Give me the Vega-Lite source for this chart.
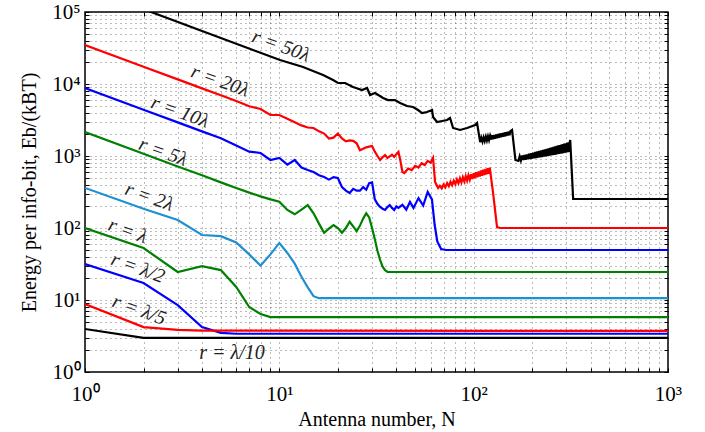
{
  "$schema": "https://vega.github.io/schema/vega-lite/v6.json",
  "width": 583,
  "height": 360,
  "autosize": "none",
  "padding": {"left": 85, "top": 12, "right": 37, "bottom": 60},
  "config": {
    "view": {"stroke": "black", "strokeWidth": 1.5},
    "font": "Liberation Serif",
    "axis": {
      "grid": true,
      "gridDash": [1, 4],
      "gridColor": "#333333",
      "gridOpacity": 0.65,
      "domain": false,
      "tickColor": "black",
      "tickSize": -4,
      "labelFont": "Liberation Serif",
      "labelFontSize": 21,
      "labelColor": "black",
      "labelOverlap": false,
      "labelFlush": false,
      "titleFont": "Liberation Serif",
      "titleFontSize": 20,
      "titleFontWeight": "normal",
      "titleColor": "black"
    }
  },
  "datasets": {
    "curves": [
      {"r": "50λ", "N": 1, "E": 220000}, {"r": "50λ", "N": 10.08, "E": 21500}, {"r": "50λ", "N": 13.24, "E": 17220}, {"r": "50λ", "N": 16.79, "E": 13340}, {"r": "50λ", "N": 18.9, "E": 11370}, {"r": "50λ", "N": 20.05, "E": 10320}, {"r": "50λ", "N": 21.79, "E": 10320}, {"r": "50λ", "N": 23.95, "E": 9080}, {"r": "50λ", "N": 26.65, "E": 8250}, {"r": "50λ", "N": 28.28, "E": 8790}, {"r": "50λ", "N": 29.3, "E": 7030}, {"r": "50λ", "N": 31.09, "E": 7500}, {"r": "50λ", "N": 34.18, "E": 6390}, {"r": "50λ", "N": 36.26, "E": 5990}, {"r": "50λ", "N": 39.4, "E": 5990}, {"r": "50λ", "N": 41.81, "E": 5450}, {"r": "50λ", "N": 45.42, "E": 4950}, {"r": "50λ", "N": 48.76, "E": 4790}, {"r": "50λ", "N": 51.73, "E": 4350}, {"r": "50λ", "N": 54.24, "E": 3950}, {"r": "50λ", "N": 57.56, "E": 4080}, {"r": "50λ", "N": 61.07, "E": 4350}, {"r": "50λ", "N": 61.8, "E": 3480}, {"r": "50λ", "N": 64.8, "E": 2970}, {"r": "50λ", "N": 72.96, "E": 3160}, {"r": "50λ", "N": 75.6, "E": 3370}, {"r": "50λ", "N": 78.34, "E": 2450}, {"r": "50λ", "N": 85.11, "E": 2300}, {"r": "50λ", "N": 92.47, "E": 2450}, {"r": "50λ", "N": 101.7, "E": 2700}, {"r": "50λ", "N": 104.1, "E": 2870},
      {"r": "50λ", "N": 108, "E": 1560}, {"r": "50λ", "N": 109.5, "E": 1793}, {"r": "50λ", "N": 111, "E": 1586}, {"r": "50λ", "N": 112.5, "E": 1821}, {"r": "50λ", "N": 114, "E": 1612}, {"r": "50λ", "N": 115.5, "E": 1849}, {"r": "50λ", "N": 117, "E": 1637}, {"r": "50λ", "N": 118.5, "E": 1878}, {"r": "50λ", "N": 120, "E": 1663}, {"r": "50λ", "N": 121.5, "E": 1906}, {"r": "50λ", "N": 123, "E": 1689}, {"r": "50λ", "N": 124.5, "E": 1934}, {"r": "50λ", "N": 126, "E": 1715}, {"r": "50λ", "N": 127.5, "E": 1962}, {"r": "50λ", "N": 129, "E": 1741}, {"r": "50λ", "N": 130.5, "E": 1990}, {"r": "50λ", "N": 132, "E": 1766}, {"r": "50λ", "N": 133.5, "E": 2018}, {"r": "50λ", "N": 135, "E": 1792}, {"r": "50λ", "N": 136.5, "E": 2047}, {"r": "50λ", "N": 138, "E": 1818}, {"r": "50λ", "N": 139.5, "E": 2075}, {"r": "50λ", "N": 141, "E": 1844}, {"r": "50λ", "N": 142.5, "E": 2103}, {"r": "50λ", "N": 144, "E": 1870}, {"r": "50λ", "N": 145.5, "E": 2131}, {"r": "50λ", "N": 147, "E": 1896}, {"r": "50λ", "N": 148.5, "E": 2159}, {"r": "50λ", "N": 150, "E": 1921}, {"r": "50λ", "N": 151.5, "E": 2187}, {"r": "50λ", "N": 153, "E": 1947}, {"r": "50λ", "N": 154.5, "E": 2215}, {"r": "50λ", "N": 157.6, "E": 2300}, {"r": "50λ", "N": 164, "E": 880},
      {"r": "50λ", "N": 170, "E": 858}, {"r": "50λ", "N": 172.5, "E": 992}, {"r": "50λ", "N": 175, "E": 868}, {"r": "50λ", "N": 177.5, "E": 1013}, {"r": "50λ", "N": 180, "E": 878}, {"r": "50λ", "N": 182.5, "E": 1033}, {"r": "50λ", "N": 185, "E": 888}, {"r": "50λ", "N": 187.5, "E": 1054}, {"r": "50λ", "N": 190, "E": 898}, {"r": "50λ", "N": 192.5, "E": 1074}, {"r": "50λ", "N": 195, "E": 908}, {"r": "50λ", "N": 197.5, "E": 1095}, {"r": "50λ", "N": 200, "E": 918}, {"r": "50λ", "N": 202.5, "E": 1115}, {"r": "50λ", "N": 205, "E": 928}, {"r": "50λ", "N": 207.5, "E": 1136}, {"r": "50λ", "N": 210, "E": 938}, {"r": "50λ", "N": 212.5, "E": 1156}, {"r": "50λ", "N": 215, "E": 948}, {"r": "50λ", "N": 217.5, "E": 1177}, {"r": "50λ", "N": 220, "E": 958}, {"r": "50λ", "N": 222.5, "E": 1197}, {"r": "50λ", "N": 225, "E": 968}, {"r": "50λ", "N": 227.5, "E": 1218}, {"r": "50λ", "N": 230, "E": 978}, {"r": "50λ", "N": 232.5, "E": 1238}, {"r": "50λ", "N": 235, "E": 988}, {"r": "50λ", "N": 237.5, "E": 1259}, {"r": "50λ", "N": 240, "E": 998}, {"r": "50λ", "N": 242.5, "E": 1279}, {"r": "50λ", "N": 245, "E": 1008}, {"r": "50λ", "N": 247.5, "E": 1300}, {"r": "50λ", "N": 250, "E": 1018}, {"r": "50λ", "N": 252.5, "E": 1320}, {"r": "50λ", "N": 255, "E": 1028}, {"r": "50λ", "N": 257.5, "E": 1341}, {"r": "50λ", "N": 260, "E": 1038}, {"r": "50λ", "N": 262.5, "E": 1361}, {"r": "50λ", "N": 265, "E": 1048}, {"r": "50λ", "N": 267.5, "E": 1382}, {"r": "50λ", "N": 270, "E": 1058}, {"r": "50λ", "N": 272.5, "E": 1402}, {"r": "50λ", "N": 275, "E": 1068}, {"r": "50λ", "N": 277.5, "E": 1423}, {"r": "50λ", "N": 280, "E": 1078}, {"r": "50λ", "N": 282.5, "E": 1443}, {"r": "50λ", "N": 285, "E": 1088}, {"r": "50λ", "N": 287.5, "E": 1464}, {"r": "50λ", "N": 290, "E": 1098}, {"r": "50λ", "N": 292.5, "E": 1484}, {"r": "50λ", "N": 295, "E": 1108}, {"r": "50λ", "N": 297.5, "E": 1505}, {"r": "50λ", "N": 300, "E": 1118}, {"r": "50λ", "N": 302.5, "E": 1525}, {"r": "50λ", "N": 305, "E": 1128}, {"r": "50λ", "N": 307.5, "E": 1546}, {"r": "50λ", "N": 310, "E": 1138}, {"r": "50λ", "N": 312.5, "E": 1566}, {"r": "50λ", "N": 314, "E": 1670}, {"r": "50λ", "N": 325, "E": 253}, {"r": "50λ", "N": 1000, "E": 253},

      {"r": "20λ", "N": 1, "E": 34800}, {"r": "20λ", "N": 2, "E": 17400}, {"r": "20λ", "N": 3, "E": 11600}, {"r": "20λ", "N": 4, "E": 8700}, {"r": "20λ", "N": 5, "E": 6960}, {"r": "20λ", "N": 6, "E": 5800}, {"r": "20λ", "N": 7, "E": 4900}, {"r": "20λ", "N": 8, "E": 4500}, {"r": "20λ", "N": 9, "E": 3710}, {"r": "20λ", "N": 10, "E": 3710}, {"r": "20λ", "N": 11, "E": 3300}, {"r": "20λ", "N": 12, "E": 2940}, {"r": "20λ", "N": 13, "E": 2660}, {"r": "20λ", "N": 14, "E": 2490}, {"r": "20λ", "N": 15, "E": 2450}, {"r": "20λ", "N": 16, "E": 2200}, {"r": "20λ", "N": 17, "E": 2050}, {"r": "20λ", "N": 18, "E": 1750}, {"r": "20λ", "N": 19, "E": 1800}, {"r": "20λ", "N": 20, "E": 2050}, {"r": "20λ", "N": 21, "E": 1750}, {"r": "20λ", "N": 22, "E": 1600}, {"r": "20λ", "N": 23, "E": 1650}, {"r": "20λ", "N": 24, "E": 1620}, {"r": "20λ", "N": 25, "E": 1500}, {"r": "20λ", "N": 26, "E": 1200}, {"r": "20λ", "N": 27, "E": 1260}, {"r": "20λ", "N": 28, "E": 1320}, {"r": "20λ", "N": 29, "E": 1350}, {"r": "20λ", "N": 30, "E": 1380}, {"r": "20λ", "N": 31, "E": 1150}, {"r": "20λ", "N": 32, "E": 1000}, {"r": "20λ", "N": 33, "E": 880}, {"r": "20λ", "N": 34, "E": 960}, {"r": "20λ", "N": 35, "E": 1030}, {"r": "20λ", "N": 36, "E": 940}, {"r": "20λ", "N": 37, "E": 990}, {"r": "20λ", "N": 38, "E": 1040}, {"r": "20λ", "N": 39, "E": 970}, {"r": "20λ", "N": 40, "E": 1060}, {"r": "20λ", "N": 41, "E": 1140}, {"r": "20λ", "N": 42, "E": 850}, {"r": "20λ", "N": 43, "E": 600}, {"r": "20λ", "N": 44, "E": 580}, {"r": "20λ", "N": 46, "E": 670}, {"r": "20λ", "N": 48, "E": 637}, {"r": "20λ", "N": 50, "E": 731}, {"r": "20λ", "N": 52, "E": 692}, {"r": "20λ", "N": 54, "E": 794}, {"r": "20λ", "N": 56, "E": 750}, {"r": "20λ", "N": 58, "E": 855}, {"r": "20λ", "N": 60, "E": 807}, {"r": "20λ", "N": 61.8, "E": 940}, {"r": "20λ", "N": 63.3, "E": 436}, {"r": "20λ", "N": 65.6, "E": 359},
      {"r": "20λ", "N": 67, "E": 386}, {"r": "20λ", "N": 68.5, "E": 356}, {"r": "20λ", "N": 70, "E": 403}, {"r": "20λ", "N": 71.5, "E": 368}, {"r": "20λ", "N": 73, "E": 421}, {"r": "20λ", "N": 74.5, "E": 381}, {"r": "20λ", "N": 76, "E": 438}, {"r": "20λ", "N": 77.5, "E": 393}, {"r": "20λ", "N": 79, "E": 455}, {"r": "20λ", "N": 80.5, "E": 405}, {"r": "20λ", "N": 82, "E": 472}, {"r": "20λ", "N": 83.5, "E": 418}, {"r": "20λ", "N": 85, "E": 490}, {"r": "20λ", "N": 86.5, "E": 430}, {"r": "20λ", "N": 88, "E": 507}, {"r": "20λ", "N": 89.5, "E": 443}, {"r": "20λ", "N": 91, "E": 524}, {"r": "20λ", "N": 92.5, "E": 455}, {"r": "20λ", "N": 94, "E": 541}, {"r": "20λ", "N": 95.5, "E": 468}, {"r": "20λ", "N": 97, "E": 559}, {"r": "20λ", "N": 98.5, "E": 480}, {"r": "20λ", "N": 100, "E": 576}, {"r": "20λ", "N": 101.5, "E": 493}, {"r": "20λ", "N": 103, "E": 593}, {"r": "20λ", "N": 104.5, "E": 505}, {"r": "20λ", "N": 106, "E": 610}, {"r": "20λ", "N": 107.5, "E": 517}, {"r": "20λ", "N": 109, "E": 628}, {"r": "20λ", "N": 110.5, "E": 530}, {"r": "20λ", "N": 112, "E": 645}, {"r": "20λ", "N": 113.5, "E": 542}, {"r": "20λ", "N": 115, "E": 662}, {"r": "20λ", "N": 116.5, "E": 555}, {"r": "20λ", "N": 118, "E": 679}, {"r": "20λ", "N": 119.5, "E": 567}, {"r": "20λ", "N": 121, "E": 690}, {"r": "20λ", "N": 125.9, "E": 306}, {"r": "20λ", "N": 131.9, "E": 103}, {"r": "20λ", "N": 136.8, "E": 100}, {"r": "20λ", "N": 1000, "E": 100},

      {"r": "10λ", "N": 1, "E": 8800}, {"r": "10λ", "N": 2, "E": 4400}, {"r": "10λ", "N": 3, "E": 2930}, {"r": "10λ", "N": 4, "E": 2200}, {"r": "10λ", "N": 5, "E": 1760}, {"r": "10λ", "N": 6, "E": 1400}, {"r": "10λ", "N": 7, "E": 1150}, {"r": "10λ", "N": 8, "E": 1100}, {"r": "10λ", "N": 9, "E": 880}, {"r": "10λ", "N": 10, "E": 940}, {"r": "10λ", "N": 11, "E": 760}, {"r": "10λ", "N": 12, "E": 880}, {"r": "10λ", "N": 13, "E": 690}, {"r": "10λ", "N": 14, "E": 640}, {"r": "10λ", "N": 15, "E": 600}, {"r": "10λ", "N": 16, "E": 540}, {"r": "10λ", "N": 17, "E": 510}, {"r": "10λ", "N": 18, "E": 470}, {"r": "10λ", "N": 19, "E": 510}, {"r": "10λ", "N": 20, "E": 495}, {"r": "10λ", "N": 21, "E": 371}, {"r": "10λ", "N": 22, "E": 330}, {"r": "10λ", "N": 23, "E": 306}, {"r": "10λ", "N": 24, "E": 350}, {"r": "10λ", "N": 25, "E": 330}, {"r": "10λ", "N": 26, "E": 330}, {"r": "10λ", "N": 27, "E": 370}, {"r": "10λ", "N": 28, "E": 340}, {"r": "10λ", "N": 29, "E": 420}, {"r": "10λ", "N": 30, "E": 430}, {"r": "10λ", "N": 31, "E": 250}, {"r": "10λ", "N": 32, "E": 215}, {"r": "10λ", "N": 33, "E": 196}, {"r": "10λ", "N": 34, "E": 185}, {"r": "10λ", "N": 35, "E": 178}, {"r": "10λ", "N": 36, "E": 195}, {"r": "10λ", "N": 37, "E": 208}, {"r": "10λ", "N": 38, "E": 190}, {"r": "10λ", "N": 39, "E": 178}, {"r": "10λ", "N": 40, "E": 200}, {"r": "10λ", "N": 41, "E": 190}, {"r": "10λ", "N": 43, "E": 210}, {"r": "10λ", "N": 45, "E": 180}, {"r": "10λ", "N": 47, "E": 230}, {"r": "10λ", "N": 49, "E": 190}, {"r": "10λ", "N": 52, "E": 260}, {"r": "10λ", "N": 55, "E": 205}, {"r": "10λ", "N": 58, "E": 316}, {"r": "10λ", "N": 61, "E": 250}, {"r": "10λ", "N": 63, "E": 110}, {"r": "10λ", "N": 65, "E": 65}, {"r": "10λ", "N": 68, "E": 51}, {"r": "10λ", "N": 72, "E": 49.5}, {"r": "10λ", "N": 1000, "E": 49.5},

      {"r": "5λ", "N": 1, "E": 2150}, {"r": "5λ", "N": 2, "E": 1075}, {"r": "5λ", "N": 3, "E": 715}, {"r": "5λ", "N": 4, "E": 540}, {"r": "5λ", "N": 5, "E": 430}, {"r": "5λ", "N": 6, "E": 360}, {"r": "5λ", "N": 7, "E": 310}, {"r": "5λ", "N": 8, "E": 275}, {"r": "5λ", "N": 9, "E": 250}, {"r": "5λ", "N": 10, "E": 232}, {"r": "5λ", "N": 11, "E": 178}, {"r": "5λ", "N": 12, "E": 155}, {"r": "5λ", "N": 13, "E": 180}, {"r": "5λ", "N": 14, "E": 208}, {"r": "5λ", "N": 15, "E": 160}, {"r": "5λ", "N": 16, "E": 115}, {"r": "5λ", "N": 17, "E": 86}, {"r": "5λ", "N": 18, "E": 98}, {"r": "5λ", "N": 19, "E": 110}, {"r": "5λ", "N": 20, "E": 100}, {"r": "5λ", "N": 21, "E": 86}, {"r": "5λ", "N": 22, "E": 100}, {"r": "5λ", "N": 23, "E": 122}, {"r": "5λ", "N": 24, "E": 105}, {"r": "5λ", "N": 25, "E": 90}, {"r": "5λ", "N": 26, "E": 108}, {"r": "5λ", "N": 27, "E": 135}, {"r": "5λ", "N": 28, "E": 160}, {"r": "5λ", "N": 29, "E": 140}, {"r": "5λ", "N": 30, "E": 100}, {"r": "5λ", "N": 31, "E": 70}, {"r": "5λ", "N": 32, "E": 48}, {"r": "5λ", "N": 33, "E": 36}, {"r": "5λ", "N": 34, "E": 29}, {"r": "5λ", "N": 35, "E": 26}, {"r": "5λ", "N": 36, "E": 24.5}, {"r": "5λ", "N": 1000, "E": 24.5},

      {"r": "2λ", "N": 1, "E": 360}, {"r": "2λ", "N": 2, "E": 185}, {"r": "2λ", "N": 3, "E": 129}, {"r": "2λ", "N": 4, "E": 80}, {"r": "2λ", "N": 5, "E": 77}, {"r": "2λ", "N": 6, "E": 63}, {"r": "2λ", "N": 7, "E": 43}, {"r": "2λ", "N": 8, "E": 30}, {"r": "2λ", "N": 9, "E": 43}, {"r": "2λ", "N": 10, "E": 62}, {"r": "2λ", "N": 11, "E": 45}, {"r": "2λ", "N": 12, "E": 32}, {"r": "2λ", "N": 13, "E": 21}, {"r": "2λ", "N": 14, "E": 15}, {"r": "2λ", "N": 15, "E": 11.3}, {"r": "2λ", "N": 16, "E": 10.6}, {"r": "2λ", "N": 1000, "E": 10.6},

      {"r": "λ", "N": 1, "E": 100}, {"r": "λ", "N": 2, "E": 52.7}, {"r": "λ", "N": 3, "E": 24.5}, {"r": "λ", "N": 4, "E": 29.6}, {"r": "λ", "N": 5, "E": 26}, {"r": "λ", "N": 6, "E": 15.2}, {"r": "λ", "N": 7, "E": 8.0}, {"r": "λ", "N": 8, "E": 6.4}, {"r": "λ", "N": 9, "E": 5.8}, {"r": "λ", "N": 1000, "E": 5.8},

      {"r": "λ/2", "N": 1, "E": 31.6}, {"r": "λ/2", "N": 2, "E": 17.2}, {"r": "λ/2", "N": 3, "E": 8.5}, {"r": "λ/2", "N": 4, "E": 4.2}, {"r": "λ/2", "N": 5, "E": 3.5}, {"r": "λ/2", "N": 6, "E": 3.4}, {"r": "λ/2", "N": 1000, "E": 3.4},

      {"r": "λ/5", "N": 1, "E": 8.8}, {"r": "λ/5", "N": 2, "E": 4.2}, {"r": "λ/5", "N": 3, "E": 3.85}, {"r": "λ/5", "N": 4, "E": 3.75}, {"r": "λ/5", "N": 1000, "E": 3.72},

      {"r": "λ/10", "N": 1, "E": 3.96}, {"r": "λ/10", "N": 2, "E": 2.97}, {"r": "λ/10", "N": 1000, "E": 2.97}
    ],
    "labels": [
      {"label": "r = 50λ", "N": 10.2, "E": 33700},
      {"label": "r = 20λ", "N": 4.95, "E": 11000},
      {"label": "r = 10λ", "N": 3.08, "E": 4080},
      {"label": "r = 5λ", "N": 2.52, "E": 1137},
      {"label": "r = 2λ", "N": 2.14, "E": 270},
      {"label": "r = λ", "N": 1.66, "E": 90.9},
      {"label": "r = λ/2", "N": 1.87, "E": 27.8},
      {"label": "r = λ/5", "N": 1.9, "E": 7.26}
    ],
    "flat": [
      {"label": "r = λ/10", "N": 5.71, "E": 1.84}
    ]
  },
  "layer": [
    {
      "data": {"name": "curves"},
      "mark": {"type": "line", "clip": true, "strokeWidth": 2.2},
      "encoding": {
        "x": {
          "field": "N", "type": "quantitative",
          "scale": {"type": "log", "domain": [1, 1000]},
          "axis": {
            "orient": "bottom",
            "title": "Antenna number, N",
            "titlePadding": 5,
            "labelPadding": 15,
            "values": [1,2,3,4,5,6,7,8,9,10,20,30,40,50,60,70,80,90,100,200,300,400,500,600,700,800,900,1000],
            "labelExpr": "abs(log(datum.value)/LN10 - round(log(datum.value)/LN10)) < 0.001 ? '10' + ['⁰','¹','²','³','⁴','⁵'][round(log(datum.value)/LN10)] : ''"
          }
        },
        "y": {
          "field": "E", "type": "quantitative",
          "scale": {"type": "log", "domain": [1, 100000]},
          "axis": {
            "orient": "left",
            "title": "Energy per info-bit, Eb/(kBT)",
            "titlePadding": 12,
            "labelPadding": 9,
            "values": [1,2,3,4,5,6,7,8,9,10,20,30,40,50,60,70,80,90,100,200,300,400,500,600,700,800,900,1000,2000,3000,4000,5000,6000,7000,8000,9000,10000,20000,30000,40000,50000,60000,70000,80000,90000,100000],
            "labelExpr": "abs(log(datum.value)/LN10 - round(log(datum.value)/LN10)) < 0.001 ? '10' + ['⁰','¹','²','³','⁴','⁵'][round(log(datum.value)/LN10)] : ''"
          }
        },
        "color": {
          "field": "r", "type": "nominal",
          "scale": {
            "domain": ["50λ", "20λ", "10λ", "5λ", "2λ", "λ", "λ/2", "λ/5", "λ/10"],
            "range": ["#000000", "#ff0000", "#0000ff", "#008000", "#1e90d2", "#008000", "#0000ff", "#ff0000", "#000000"]
          },
          "legend": null
        }
      }
    },
    {
      "data": {"name": "labels"},
      "mark": {"type": "text", "angle": 20, "align": "center", "baseline": "middle", "font": "Liberation Serif", "fontStyle": "italic", "fontSize": 20, "color": "#222222"},
      "encoding": {
        "x": {"field": "N", "type": "quantitative", "axis": null},
        "y": {"field": "E", "type": "quantitative", "axis": null},
        "text": {"field": "label"}
      }
    },
    {
      "data": {"name": "flat"},
      "mark": {"type": "text", "angle": 0, "align": "center", "baseline": "middle", "font": "Liberation Serif", "fontStyle": "italic", "fontSize": 20, "color": "#222222"},
      "encoding": {
        "x": {"field": "N", "type": "quantitative", "axis": {"orient": "top", "labels": false, "title": null, "grid": false, "values": [1,2,3,4,5,6,7,8,9,10,20,30,40,50,60,70,80,90,100,200,300,400,500,600,700,800,900,1000]}},
        "y": {"field": "E", "type": "quantitative", "axis": {"orient": "right", "labels": false, "title": null, "grid": false, "values": [1,2,3,4,5,6,7,8,9,10,20,30,40,50,60,70,80,90,100,200,300,400,500,600,700,800,900,1000,2000,3000,4000,5000,6000,7000,8000,9000,10000,20000,30000,40000,50000,60000,70000,80000,90000,100000]}},
        "text": {"field": "label"}
      }
    }
  ],
  "resolve": {"axis": {"x": "independent", "y": "independent"}}
}
